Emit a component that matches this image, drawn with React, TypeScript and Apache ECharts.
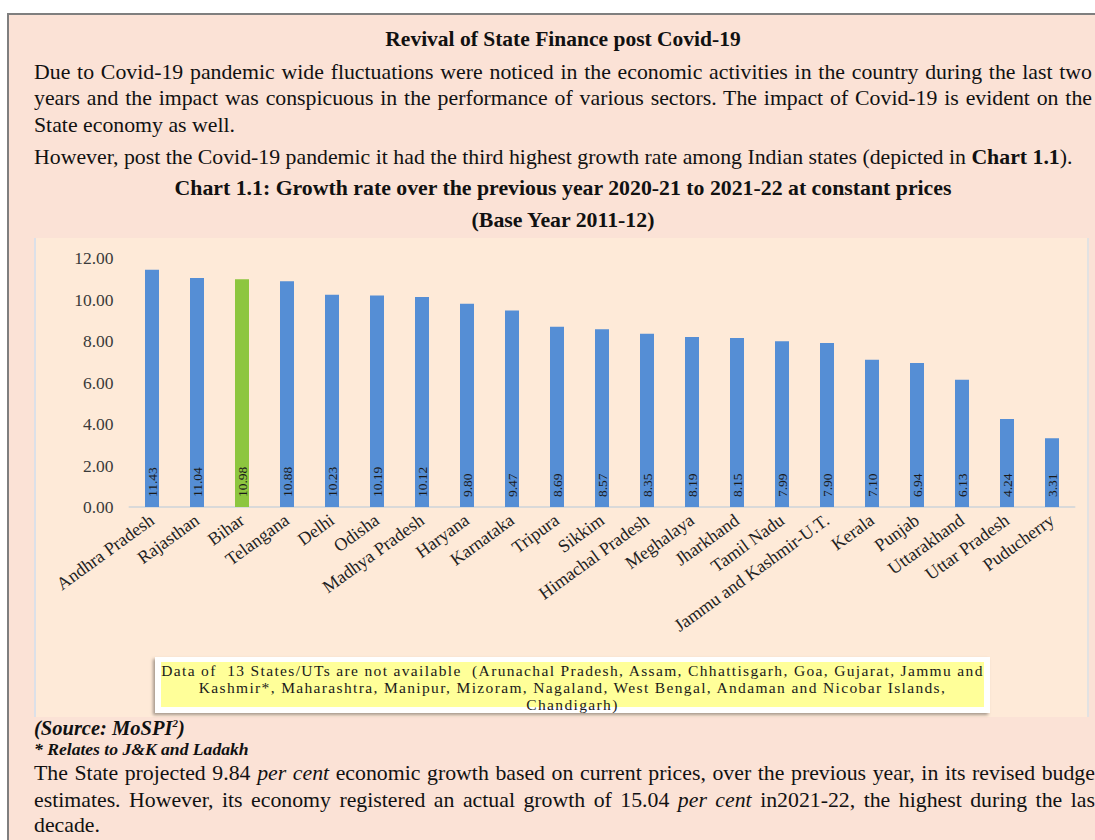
import React, { useEffect, useRef } from "react";
import * as echarts from "echarts";

const categories = [
  "Andhra Pradesh", "Rajasthan", "Bihar", "Telangana", "Delhi", "Odisha",
  "Madhya Pradesh", "Haryana", "Karnataka", "Tripura", "Sikkim",
  "Himachal Pradesh", "Meghalaya", "Jharkhand", "Tamil Nadu",
  "Jammu and Kashmir-U.T.", "Kerala", "Punjab", "Uttarakhand",
  "Uttar Pradesh", "Puducherry",
];
const growthRates = [
  11.43, 11.04, 10.98, 10.88, 10.23, 10.19, 10.12, 9.8, 9.47, 8.69, 8.57,
  8.35, 8.19, 8.15, 7.99, 7.9, 7.1, 6.94, 6.13, 4.24, 3.31,
];
const highlightState = "Bihar";
const yMin = 0;
const yMax = 12;
const yStep = 2;

const noteLines = [
  "Data of  13 States/UTs are not available  (Arunachal Pradesh, Assam, Chhattisgarh, Goa, Gujarat, Jammu and",
  "Kashmir*, Maharashtra, Manipur, Mizoram, Nagaland, West Bengal, Andaman and Nicobar Islands,",
  "Chandigarh)",
];

const SERIF = '"Liberation Serif", "Times New Roman", serif';

function GrowthChart() {
  const ref = useRef<HTMLDivElement>(null);
  useEffect(() => {
    const chart = echarts.init(ref.current!, null, { renderer: "svg" });
    chart.setOption({
      animation: false,
      backgroundColor: "transparent",
      grid: { left: 94.5, right: 13.5, top: 20, bottom: 210, containLabel: false },
      xAxis: {
        type: "category",
        data: categories,
        axisLine: { show: true, lineStyle: { color: "#D9D9D9", width: 2 } },
        axisTick: { show: false },
        axisLabel: {
          interval: 0,
          rotate: 36,
          fontFamily: SERIF,
          fontSize: 18,
          color: "#222222",
          margin: 11,
        },
      },
      yAxis: {
        type: "value",
        min: yMin,
        max: yMax,
        interval: yStep,
        axisLine: { show: false },
        axisTick: { show: false },
        splitLine: { show: false },
        axisLabel: {
          formatter: (v: number) => v.toFixed(2),
          fontFamily: SERIF,
          fontSize: 17.5,
          color: "#3a3a3a",
          margin: 16,
        },
      },
      series: [
        {
          type: "bar",
          barWidth: 14,
          data: growthRates.map((v, i) => ({
            value: v,
            itemStyle: {
              color: categories[i] === highlightState ? "#8DC63F" : "#558ED5",
            },
          })),
          label: {
            show: true,
            position: "insideBottom",
            rotate: 90,
            align: "left",
            verticalAlign: "middle",
            distance: 10,
            formatter: (p: any) => Number(p.value).toFixed(2),
            fontFamily: SERIF,
            fontSize: 13.5,
            color: "#1a1a1a",
          },
        },
      ],
    });
    return () => chart.dispose();
  }, []);
  return (
    <div
      ref={ref}
      style={{ position: "absolute", left: 35, top: 238, width: 1053, height: 479 }}
    />
  );
}

type LineProps = {
  top: number;
  left?: number;
  width?: number;
  align?: "left" | "center" | "justify";
  size?: number;
  bold?: boolean;
  italic?: boolean;
  children: React.ReactNode;
};

function Line({ top, left = 34, width = 1058, align = "left", size = 21.8, bold, italic, children }: LineProps) {
  return (
    <div
      style={{
        position: "absolute",
        top,
        left,
        width,
        fontFamily: SERIF,
        fontSize: size,
        lineHeight: 1,
        fontWeight: bold ? 700 : 400,
        fontStyle: italic ? "italic" : "normal",
        color: "#111111",
        textAlign: align,
        textAlignLast: align === "justify" ? "justify" : undefined,
        whiteSpace: align === "justify" ? "normal" : "nowrap",
      } as React.CSSProperties}
    >
      {children}
    </div>
  );
}

export default function App() {
  return (
    <div
      style={{
        position: "fixed",
        left: 0,
        top: 0,
        width: 1095,
        height: 840,
        overflow: "hidden",
        background: "#ffffff",
      }}
    >
      <div
        style={{
          position: "absolute",
          left: 7,
          top: 13,
          width: 1200,
          height: 900,
          border: "2px solid #7f7f7f",
          background: "#FBE2D6",
        }}
      />
      <Line top={29} align="center" size={21.5} bold>
        Revival of State Finance post Covid-19
      </Line>
      <Line top={62} align="justify">
        Due to Covid-19 pandemic wide fluctuations were noticed in the economic activities in the country during the last two
      </Line>
      <Line top={88} align="justify">
        years and the impact was conspicuous in the performance of various sectors. The impact of Covid-19 is evident on the
      </Line>
      <Line top={115}>State economy as well.</Line>
      <Line top={147}>
        However, post the Covid-19 pandemic it had the third highest growth rate among Indian states (depicted in <b>Chart 1.1</b>).
      </Line>
      <Line top={178} align="center" size={21.8} bold>
        Chart 1.1: Growth rate over the previous year 2020-21 to 2021-22 at constant prices
      </Line>
      <Line top={210} align="center" size={21.8} bold>
        (Base Year 2011-12)
      </Line>

      <div
        style={{
          position: "absolute",
          left: 34,
          top: 238,
          width: 1051,
          height: 479,
          background: "#FEEAD8",
          borderLeft: "2px solid #DCE0E8",
          borderRight: "2px solid #E2E2E2",
        }}
      />
      <GrowthChart />

      <div
        style={{
          position: "absolute",
          left: 155,
          top: 657,
          width: 823,
          height: 45,
          border: "6px solid #ffffff",
          borderTopWidth: 5,
          background: "#FFFF99",
          boxShadow: "-2px 2px 3px rgba(0,0,0,0.35)",
          fontFamily: SERIF,
          fontSize: 15.5,
          letterSpacing: 1.35,
          lineHeight: "17px",
          color: "#1a1a1a",
          textAlign: "center",
          whiteSpace: "pre",
        }}
      >
        {noteLines.map((t, i) => (
          <div key={i}>{t}</div>
        ))}
      </div>

      <Line top={718} size={20.5} bold italic>
        (Source: MoSPI<sup style={{ fontSize: 11 }}>2</sup>)
      </Line>
      <Line top={741} size={17.6} bold italic>
        * Relates to J&amp;K and Ladakh
      </Line>
      <Line top={763} width={1067} align="justify">
        The State projected 9.84 <i>per cent</i> economic growth based on current prices, over the previous year, in its revised budget
      </Line>
      <Line top={790} width={1067} align="justify">
        estimates. However, its economy registered an actual growth of 15.04 <i>per cent</i> in2021-22, the highest during the last
      </Line>
      <Line top={815}>decade.</Line>
    </div>
  );
}
